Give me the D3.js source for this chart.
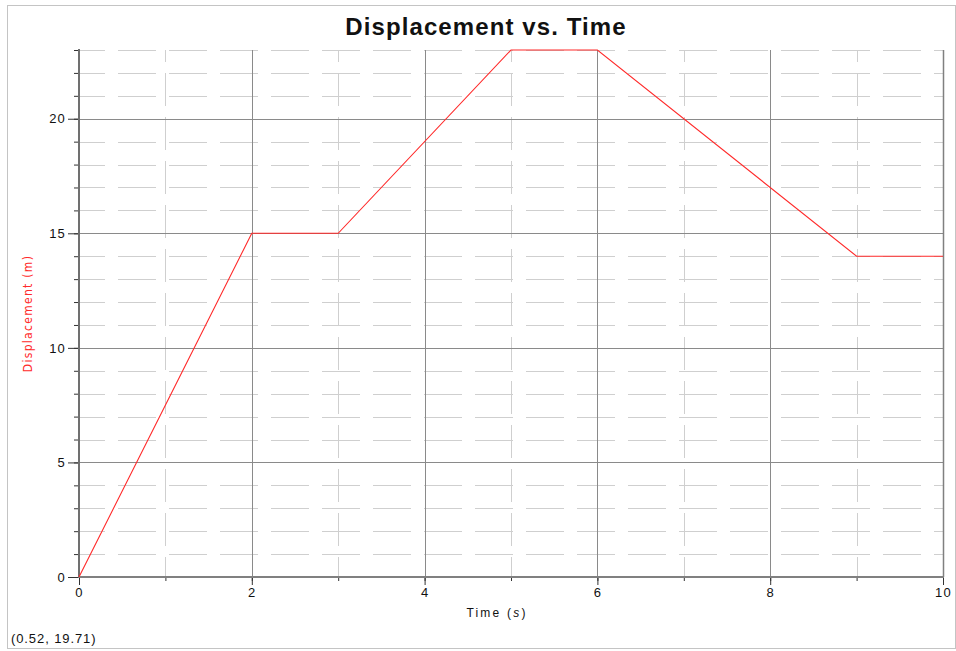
<!DOCTYPE html>
<html><head><meta charset="utf-8">
<script src="https://cdn.jsdelivr.net/npm/d3@7/dist/d3.min.js"></script>
<style>body{margin:0;background:#fff;}svg{display:block;}</style>
</head><body>
<svg id="c" width="956" height="651"></svg>
<script>
const times = [0, 2, 3, 5, 6, 9, 10];
const displacement = [0, 15, 15, 23, 23, 14, 14];
const xTicks = [0, 2, 4, 6, 8, 10];
const yTicks = [0, 5, 10, 15, 20];
const title = "Displacement vs. Time";
const xLabel = "Time (";
const xLabelUnit = "s";
const yLabel = "Displacement (m)";
const cursorText = "(0.52, 19.71)";

const svg = d3.select("#c");
const L = 79, R = 943, T = 50, B = 577;
const x = d3.scaleLinear().domain([0, 10]).range([L, R]);
const y = d3.scaleLinear().domain([0, 23]).range([B, T]);
const font = "Arial, 'Liberation Sans', sans-serif";

svg.append("rect").attr("x", 7.5).attr("y", 5.5).attr("width", 948).attr("height", 643)
  .attr("fill", "#fff").attr("stroke", "#c4c4c4");

const minorX = d3.range(1, 10, 2);
const minorY = d3.range(1, 24).filter(v => v % 5 !== 0);
svg.append("g").selectAll("line").data(minorY).join("line")
  .attr("x1", L).attr("x2", R).attr("y1", d => Math.round(y(d)) + 0.5).attr("y2", d => Math.round(y(d)) + 0.5)
  .attr("stroke", "#cfcfcf").attr("stroke-dasharray", "38,13").attr("stroke-dashoffset", 12);
svg.append("g").selectAll("line").data(minorX).join("line")
  .attr("y1", T).attr("y2", B).attr("x1", d => Math.round(x(d)) + 0.5).attr("x2", d => Math.round(x(d)) + 0.5)
  .attr("stroke", "#cfcfcf").attr("stroke-dasharray", "33,11").attr("stroke-dashoffset", 21);
svg.append("g").selectAll("line").data(yTicks.slice(1)).join("line")
  .attr("x1", L).attr("x2", R).attr("y1", d => Math.round(y(d)) + 0.5).attr("y2", d => Math.round(y(d)) + 0.5)
  .attr("stroke", "#8a8a8a");
svg.append("g").selectAll("line").data(xTicks.slice(1)).join("line")
  .attr("y1", T).attr("y2", B).attr("x1", d => Math.round(x(d)) + 0.5).attr("x2", d => Math.round(x(d)) + 0.5)
  .attr("stroke", "#8a8a8a");

const yAxis = svg.append("g").attr("transform", `translate(${L},0)`)
  .call(d3.axisLeft(y).tickValues(d3.range(0, 24)).tickSize(5).tickFormat(""));
yAxis.select(".domain").remove();
yAxis.selectAll("line").attr("stroke", "#333");
const yMaj = svg.append("g").attr("transform", `translate(${L},0)`)
  .call(d3.axisLeft(y).tickValues(yTicks).tickSize(11).tickPadding(2).tickFormat(d3.format("d")));
yMaj.select(".domain").remove();
yMaj.selectAll("line").attr("stroke", "#333");
yMaj.selectAll("text").attr("font-family", font).attr("font-size", 13).attr("letter-spacing", 1.2).attr("fill", "#111");

const xAxis = svg.append("g").attr("transform", `translate(0,${B})`)
  .call(d3.axisBottom(x).tickValues(d3.range(0, 11)).tickSize(4).tickFormat(""));
xAxis.select(".domain").remove();
xAxis.selectAll("line").attr("stroke", "#333");
const xMaj = svg.append("g").attr("transform", `translate(0,${B})`)
  .call(d3.axisBottom(x).tickValues(xTicks).tickSize(8).tickPadding(3).tickFormat(d3.format("d")));
xMaj.select(".domain").remove();
xMaj.selectAll("line").attr("stroke", "#333");
xMaj.selectAll("text").attr("font-family", font).attr("font-size", 13).attr("letter-spacing", 1.2).attr("fill", "#111");

svg.append("line").attr("x1", L).attr("x2", L).attr("y1", T - 1).attr("y2", B + 1)
  .attr("stroke", "#707070").attr("stroke-width", 2);
svg.append("line").attr("x1", L).attr("x2", R + 1).attr("y1", B).attr("y2", B)
  .attr("stroke", "#808080").attr("stroke-width", 2);
svg.append("line").attr("x1", R + 0.5).attr("x2", R + 0.5).attr("y1", T).attr("y2", B)
  .attr("stroke", "#808080").attr("stroke-width", 1.5);

const pts = times.map((t, i) => [t, displacement[i]]);
svg.append("path").datum(pts)
  .attr("d", d3.line().x(d => x(d[0])).y(d => y(d[1])))
  .attr("fill", "none").attr("stroke", "#ff2a2a").attr("stroke-width", 1.1);

svg.append("text").attr("x", 486).attr("y", 35).attr("text-anchor", "middle")
  .attr("font-family", font).attr("font-weight", "bold").attr("font-size", 24).attr("letter-spacing", 1.1)
  .attr("fill", "#111").text(title);
const xl = svg.append("text").attr("x", 497).attr("y", 617).attr("text-anchor", "middle")
  .attr("font-family", font).attr("font-size", 12).attr("letter-spacing", 2.2).attr("fill", "#111");
xl.append("tspan").text(xLabel);
xl.append("tspan").attr("font-style", "italic").text(xLabelUnit);
xl.append("tspan").text(")");
svg.append("text").attr("transform", `translate(32,${(T + B) / 2}) rotate(-90)`).attr("text-anchor", "middle")
  .attr("font-family", "'Liberation Sans Narrow', 'DejaVu Sans Condensed', sans-serif").attr("font-size", 12)
  .attr("letter-spacing", 1.3).attr("fill", "#ff2a2a").text(yLabel);
svg.append("text").attr("x", 11).attr("y", 643)
  .attr("font-family", font).attr("font-size", 13).attr("letter-spacing", 0.9).attr("fill", "#111").text(cursorText);
</script>
</body></html>
